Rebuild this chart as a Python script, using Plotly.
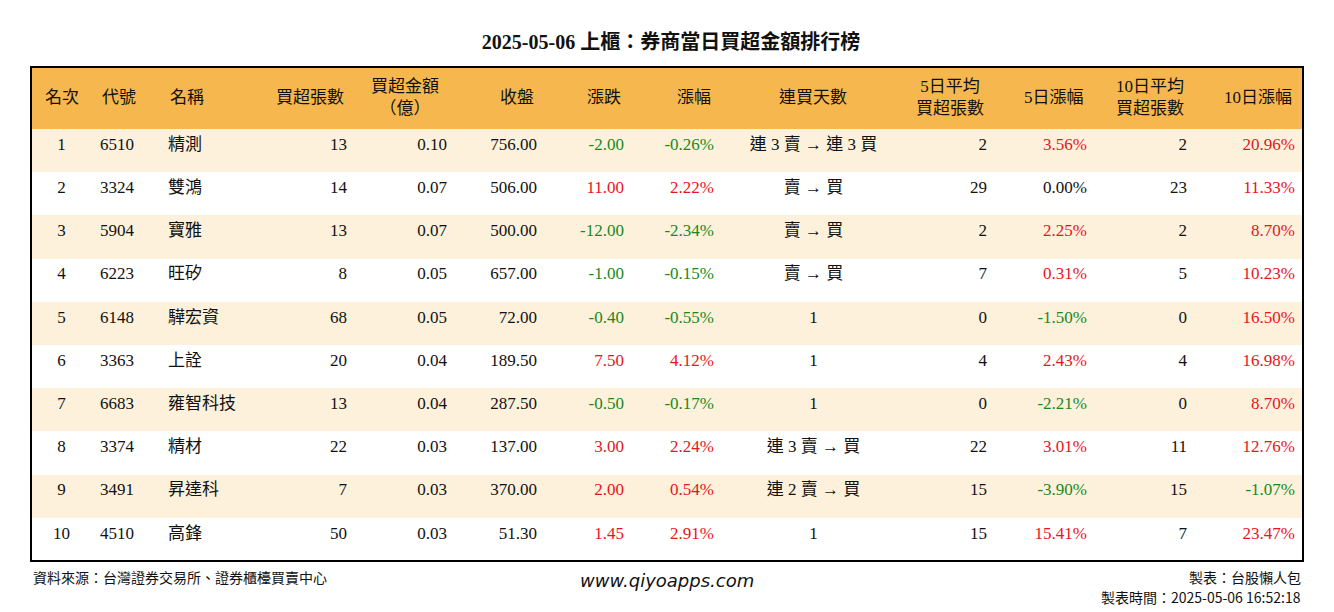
import plotly.graph_objects as go

rank = [1, 2, 3, 4, 5, 6, 7, 8, 9, 10]
code = ["6510", "3324", "5904", "6223", "6148", "3363", "6683", "3374", "3491", "4510"]
name = ["精測", "雙鴻", "寶雅", "旺矽", "驊宏資", "上詮", "雍智科技", "精材", "昇達科", "高鋒"]
net_lots = [13, 14, 13, 8, 68, 20, 13, 22, 7, 50]
net_amt = [0.10, 0.07, 0.07, 0.05, 0.05, 0.04, 0.04, 0.03, 0.03, 0.03]
close = [756.00, 506.00, 500.00, 657.00, 72.00, 189.50, 287.50, 137.00, 370.00, 51.30]
change = [-2.00, 11.00, -12.00, -1.00, -0.40, 7.50, -0.50, 3.00, 2.00, 1.45]
change_pct = [-0.26, 2.22, -2.34, -0.15, -0.55, 4.12, -0.17, 2.24, 0.54, 2.91]
streak = ["連 3 賣 → 連 3 買", "賣 → 買", "賣 → 買", "賣 → 買", "1", "1", "1",
          "連 3 賣 → 買", "連 2 賣 → 買", "1"]
avg5 = [2, 29, 2, 7, 0, 4, 0, 22, 15, 15]
pct5 = [3.56, 0.00, 2.25, 0.31, -1.50, 2.43, -2.21, 3.01, -3.90, 15.41]
avg10 = [2, 23, 2, 5, 0, 4, 0, 11, 15, 7]
pct10 = [20.96, 11.33, 8.70, 10.23, 16.50, 16.98, 8.70, 12.76, -1.07, 23.47]

headers = ["名次", "代號", "名稱", "買超張數", "買超金額<br>（億）", "收盤", "漲跌", "漲幅",
           "連買天數", "5日平均<br>買超張數", "5日漲幅", "10日平均<br>買超張數", "10日漲幅"]
widths = [61, 68, 100, 95, 100, 90, 87, 90, 183, 90, 100, 100, 108]
aligns = ["center", "left", "left", "right", "right", "right", "right", "right",
          "center", "right", "right", "right", "right"]

RED, GREEN, BLACK = "#e8141c", "#178a1a", "#111111"
FONT = "Liberation Serif, Noto Sans CJK TC"


def sign_color(v):
    return RED if v > 0 else GREEN if v < 0 else BLACK


values = [
    rank, code, name, net_lots,
    [f"{v:.2f}" for v in net_amt],
    [f"{v:.2f}" for v in close],
    [f"{v:.2f}" for v in change],
    [f"{v:.2f}%" for v in change_pct],
    streak, avg5,
    [f"{v:.2f}%" for v in pct5],
    avg10,
    [f"{v:.2f}%" for v in pct10],
]
black = [BLACK] * len(rank)
colors = [black] * 13
colors[6] = [sign_color(v) for v in change]
colors[7] = [sign_color(v) for v in change_pct]
colors[10] = [sign_color(v) for v in pct5]
colors[12] = [sign_color(v) for v in pct10]

row_fill = ["#fdf1dc" if i % 2 == 0 else "white" for i in range(len(rank))]

# page body has an 8px margin, so the figure is a bit smaller and shifted
OFF = 8
W, H = 1334 - OFF, 612 - OFF
x0, x1, y0, y1 = 31 - OFF, 1303 - OFF, 67 - OFF, 561 - OFF
hdr_h = 62

fig = go.Figure(go.Table(
    columnwidth=widths,
    domain=dict(x=[x0 / W, x1 / W], y=[1 - y1 / H, 1 - y0 / H]),
    header=dict(values=[""] * 13, fill_color="#f6b84e", height=hdr_h,
                line=dict(width=0, color="#f6b84e")),
    cells=dict(values=values, align=aligns, fill_color=[row_fill] * 13, height=43.2,
               line=dict(width=0, color="white"),
               font=dict(family=FONT, size=17, color=colors)),
))

fig.add_shape(type="rect", xref="paper", yref="paper",
              x0=x0 / W, x1=x1 / W, y0=1 - y1 / H, y1=1 - y0 / H,
              line=dict(color="black", width=2))

# header labels as annotations so they sit vertically centred
scale = (x1 - x0) / sum(widths)
annotations = []
left = x0
hy = 1 - (y0 + hdr_h / 2) / H
for h, w, a in zip(headers, widths, aligns):
    cw = w * scale
    if a == "center" or "<br>（億）" in h:
        x, anchor = left + cw / 2, "center"
    elif a == "left":
        x, anchor = left + 8, "left"
    else:
        x, anchor = left + cw - 9, "right"
    annotations.append(dict(text=h, x=x / W, y=hy, xref="paper", yref="paper",
                            xanchor=anchor, yanchor="middle", showarrow=False,
                            align="center",
                            font=dict(family=FONT, size=17, color=BLACK)))
    left += cw

annotations += [
    dict(text="資料來源：台灣證券交易所、證券櫃檯買賣中心", x=x0 / W, y=1 - (577 - OFF) / H,
         xref="paper", yref="paper", xanchor="left", yanchor="middle", showarrow=False,
         font=dict(family="Noto Sans CJK TC", size=14, color=BLACK)),
    dict(text="<i>www.qiyoapps.com</i>", x=(667 - OFF) / W, y=1 - (580 - OFF) / H,
         xref="paper", yref="paper", xanchor="center", yanchor="middle", showarrow=False,
         font=dict(family="DejaVu Sans", size=18, color=BLACK)),
    dict(text="製表：台股懶人包", x=x1 / W, y=1 - (577 - OFF) / H,
         xref="paper", yref="paper", xanchor="right", yanchor="middle", showarrow=False,
         font=dict(family="Noto Sans CJK TC", size=14, color=BLACK)),
    dict(text="製表時間：2025-05-06 16:52:18", x=x1 / W, y=1 - (597 - OFF) / H,
         xref="paper", yref="paper", xanchor="right", yanchor="middle", showarrow=False,
         font=dict(family="Noto Sans CJK TC", size=14, color=BLACK)),
]

fig.update_layout(
    width=W, height=H, margin=dict(l=0, r=0, t=0, b=0),
    paper_bgcolor="white",
    title=dict(text="<b>2025-05-06 上櫃：券商當日買超金額排行榜</b>", x=0.5,
               y=1 - (42 - OFF) / H, xanchor="center", yanchor="middle",
               font=dict(family=FONT, size=20, color=BLACK)),
    annotations=annotations,
)

fig.write_html("out.html")
